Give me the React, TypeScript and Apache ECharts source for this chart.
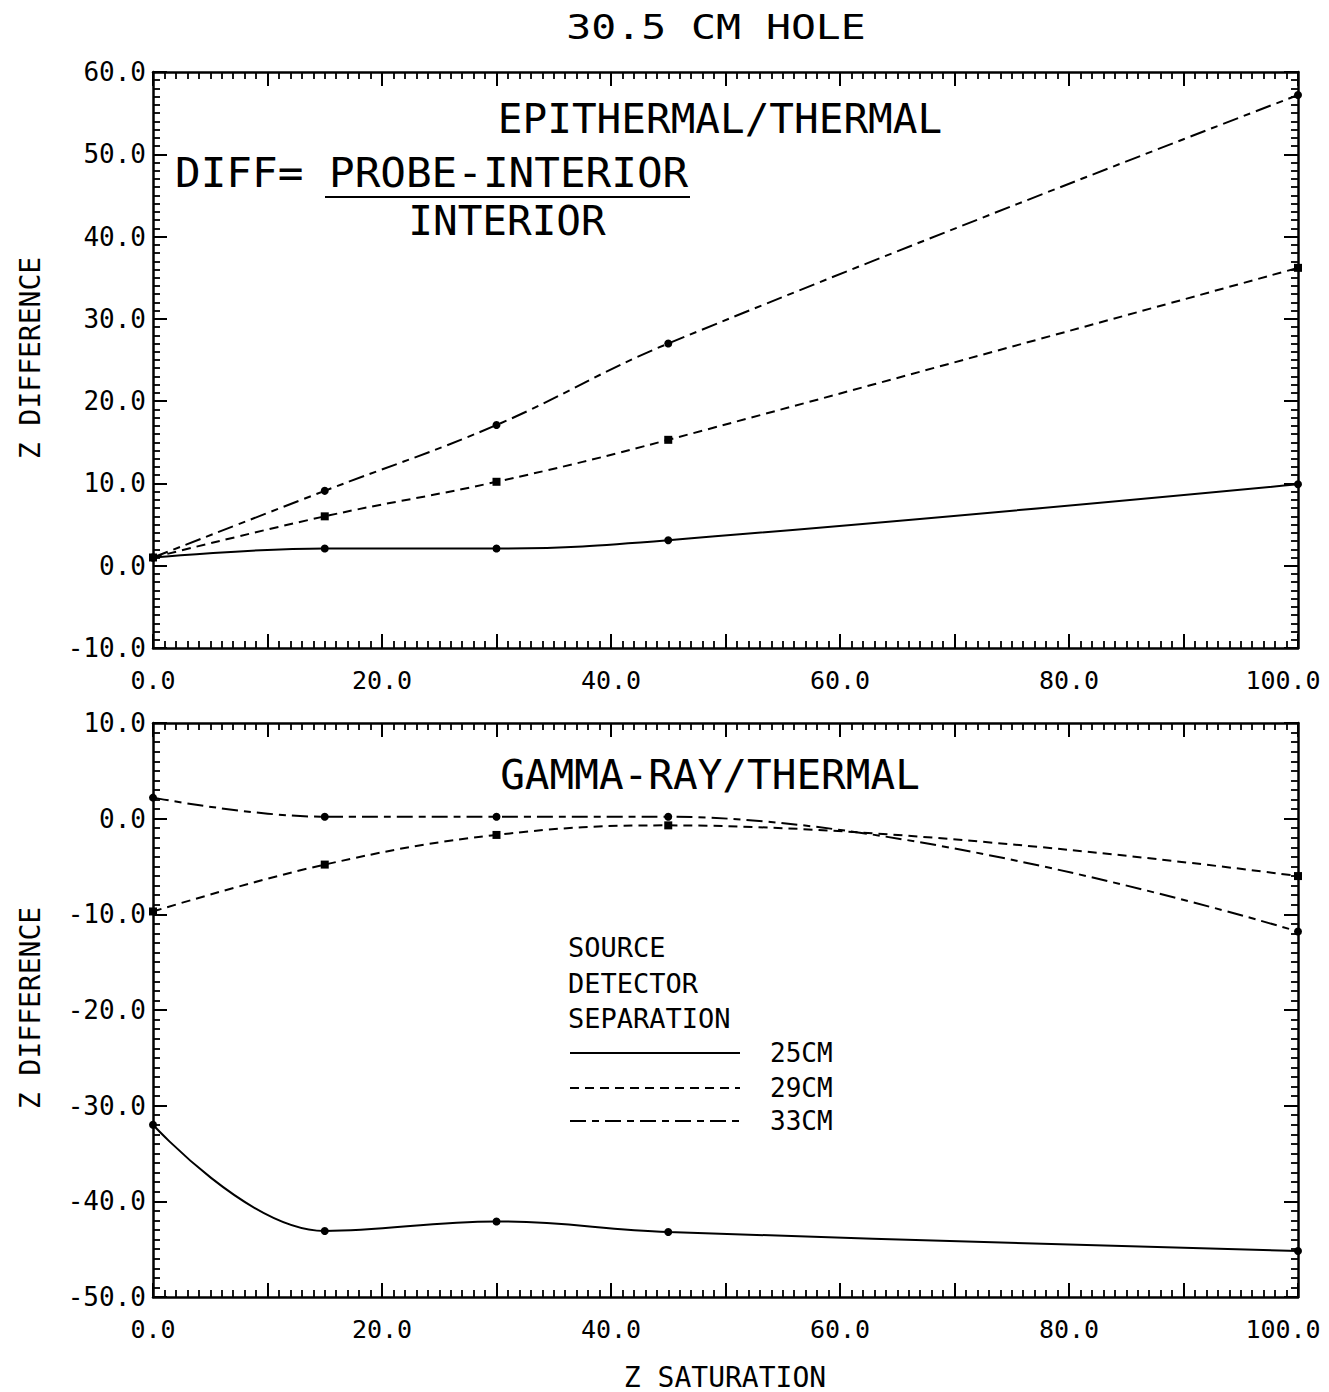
import { useEffect, useRef } from 'react';
import * as echarts from 'echarts';

// ---- data ----
const xValues = [0, 15, 30, 45, 100];
const epi25 = [1.0, 2.1, 2.1, 3.1, 9.9];
const epi29 = [1.0, 6.0, 10.2, 15.3, 36.2];
const epi33 = [1.0, 9.1, 17.1, 27.0, 57.2];
const gam25 = [-32.0, -43.1, -42.1, -43.2, -45.2];
const gam29 = [-9.7, -4.8, -1.7, -0.7, -6.0];
const gam33 = [2.2, 0.2, 0.2, 0.2, -11.8];
const legendLabels = ['25CM', '29CM', '33CM'];
const legendTitle = ['SOURCE', 'DETECTOR', 'SEPARATION'];
const topRange = [-10, 60];
const bottomRange = [-50, 10];
const xRange = [0, 100];

const FONT = '"DejaVu Sans Mono", monospace';
const dash29 = [9, 6];
const dash33 = [16, 6, 7, 6];

const pairs = (ys: number[]) => xValues.map((x, i) => [x, ys[i]]);

function xAxisDef(gridIndex: number, position: string, showLabels: boolean) {
  return {
    type: 'value',
    gridIndex,
    position,
    min: xRange[0],
    max: xRange[1],
    interval: 10,
    axisLine: { show: true, onZero: false, lineStyle: { color: '#000', width: 2.5 } },
    axisTick: { show: true, inside: true, length: 14, lineStyle: { color: '#000', width: 2 } },
    minorTick: { show: true, splitNumber: 10, length: 7, lineStyle: { color: '#000', width: 1.8 } },
    splitLine: { show: false },
    axisLabel: {
      show: showLabels,
      margin: 20,
      fontSize: 25,
      fontFamily: FONT,
      color: '#000',
      formatter: (v: number) => {
        if (Math.round(v) % 20 !== 0) return '';
        if (v === xRange[1]) return '{m|' + v.toFixed(1) + '}';
        return v.toFixed(1);
      },
      rich: {
        m: { fontSize: 25, fontFamily: FONT, color: '#000', padding: [0, 30, 0, 0] },
      },
    },
  };
}

function yAxisDef(gridIndex: number, position: string, showLabels: boolean, range: number[]) {
  return {
    type: 'value',
    gridIndex,
    position,
    min: range[0],
    max: range[1],
    interval: 10,
    axisLine: { show: true, onZero: false, lineStyle: { color: '#000', width: 2.5 } },
    axisTick: { show: true, inside: true, length: 14, lineStyle: { color: '#000', width: 2 } },
    minorTick: { show: true, splitNumber: 10, length: 7, lineStyle: { color: '#000', width: 1.8 } },
    splitLine: { show: false },
    axisLabel: {
      show: showLabels,
      margin: 7,
      fontSize: 26,
      fontFamily: FONT,
      color: '#000',
      formatter: (v: number) => v.toFixed(1),
    },
  };
}

function lineSeries(name: string, ys: number[], axisIdx: number, dash: any, symbol: string) {
  return {
    type: 'line',
    name,
    xAxisIndex: axisIdx,
    yAxisIndex: axisIdx,
    data: pairs(ys),
    smooth: 0.4,
    clip: false,
    symbol,
    symbolSize: 8,
    itemStyle: { color: '#000' },
    lineStyle: { color: '#000', width: 2, type: dash },
  };
}

function txt(text: string, x: number, y: number, fontSize: number, align = 'left', extra: any = {}) {
  return {
    type: 'text',
    x,
    y,
    ...extra,
    style: {
      text,
      fontSize,
      fontFamily: FONT,
      fill: '#000',
      textAlign: align,
      align,
      textVerticalAlign: 'middle',
      verticalAlign: 'middle',
    },
  };
}

function seg(x1: number, y1: number, x2: number, y2: number, dash: any) {
  return {
    type: 'line',
    shape: { x1, y1, x2, y2 },
    style: { stroke: '#000', lineWidth: 2, lineDash: dash },
  };
}

export default function App() {
  const ref = useRef<HTMLDivElement>(null);
  useEffect(() => {
    if (!ref.current) return;
    const chart = echarts.init(ref.current, null, { renderer: 'svg' });
    const legendY = [1053, 1088, 1121];
    const legendDash: any[] = [null, dash29, dash33];
    chart.setOption({
      animation: false,
      backgroundColor: '#fff',
      grid: [
        { left: 153, right: 31, top: 72, height: 576, outerBoundsMode: 'none', containLabel: false },
        { left: 153, right: 31, top: 723, height: 574, outerBoundsMode: 'none', containLabel: false },
      ],
      xAxis: [
        xAxisDef(0, 'bottom', true),
        xAxisDef(0, 'top', false),
        xAxisDef(1, 'bottom', true),
        xAxisDef(1, 'top', false),
      ],
      yAxis: [
        yAxisDef(0, 'left', true, topRange),
        yAxisDef(0, 'right', false, topRange),
        yAxisDef(1, 'left', true, bottomRange),
        yAxisDef(1, 'right', false, bottomRange),
      ],
      series: [
        lineSeries('25CM', epi25, 0, 'solid', 'circle'),
        lineSeries('29CM', epi29, 0, dash29, 'rect'),
        lineSeries('33CM', epi33, 0, dash33, 'circle'),
        lineSeries('25CM', gam25, 2, 'solid', 'circle'),
        lineSeries('29CM', gam29, 2, dash29, 'rect'),
        lineSeries('33CM', gam33, 2, dash33, 'circle'),
      ],
      graphic: [
        txt('30.5 CM HOLE', 716, 27, 34, 'center', { scaleX: 1.22 }),
        txt('EPITHERMAL/THERMAL', 720, 119, 41, 'center'),
        txt('DIFF= PROBE-INTERIOR', 175, 173, 41, 'left', { scaleX: 1.04 }),
        seg(325, 197, 690, 197, null),
        txt('INTERIOR', 507, 221, 41, 'center'),
        txt('GAMMA-RAY/THERMAL', 710, 775, 41, 'center'),
        txt(legendTitle[0], 568, 947, 27),
        txt(legendTitle[1], 568, 983, 27),
        txt(legendTitle[2], 568, 1018, 27),
        ...legendLabels.map((l, i) => seg(570, legendY[i], 740, legendY[i], legendDash[i])),
        ...legendLabels.map((l, i) => txt(l, 770, legendY[i], 26)),
        txt('Z DIFFERENCE', 30, 358, 28, 'center', { rotation: Math.PI / 2 }),
        txt('Z DIFFERENCE', 30, 1008, 28, 'center', { rotation: Math.PI / 2 }),
        txt('Z SATURATION', 725, 1377, 28, 'center'),
      ],
    });
    return () => chart.dispose();
  }, []);
  return (
    <div
      ref={ref}
      style={{ position: 'absolute', left: 0, top: 0, width: 1329, height: 1392, background: '#fff' }}
    />
  );
}
